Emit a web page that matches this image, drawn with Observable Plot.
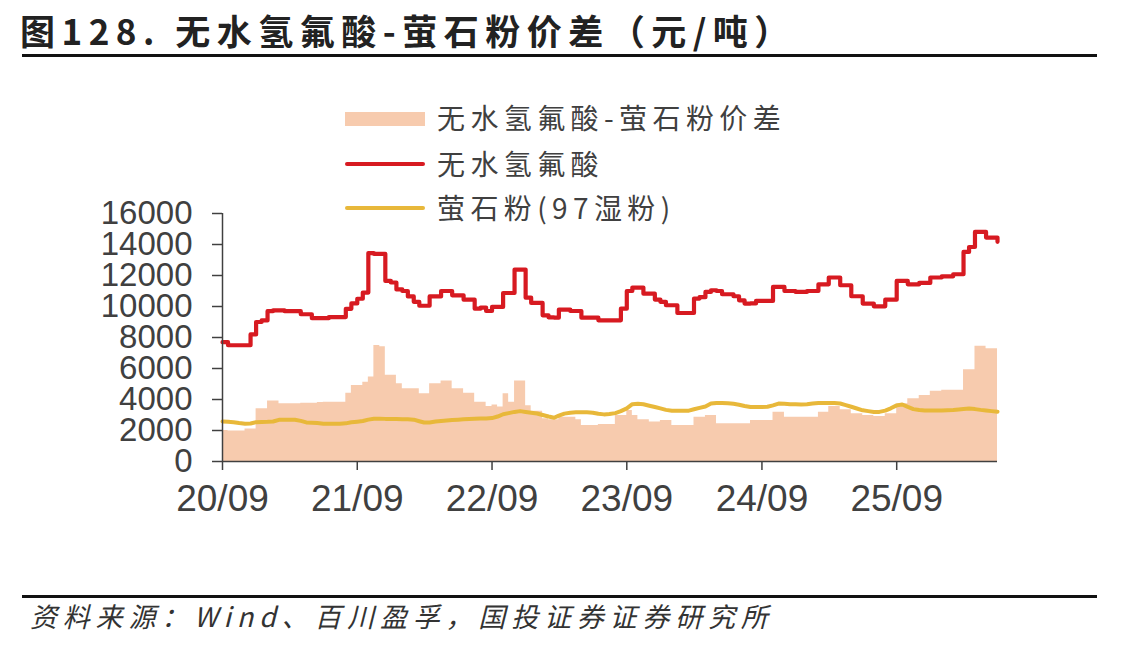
<!DOCTYPE html>
<html>
<head>
<meta charset="utf-8">
<script src="https://cdn.jsdelivr.net/npm/d3@7"></script>
<script src="https://cdn.jsdelivr.net/npm/@observablehq/plot@0.6"></script>
<style>
  html, body { margin: 0; padding: 0; background: #fff; }
  #page { position: relative; width: 1147px; height: 650px; overflow: hidden; font-family: "Noto Sans CJK SC", sans-serif; }
  #title { position: absolute; left: 20px; top: 4px; font-size: 35px; font-weight: bold; color: #222; letter-spacing: 6.5px; white-space: nowrap; }
  .hr { position: absolute; left: 22px; width: 1075px; height: 3px; background: #111; }
  #source { position: absolute; left: 30px; top: 596px; font-size: 27px; font-style: italic; color: #333; letter-spacing: 5.8px; white-space: nowrap; }
  .lg { position: absolute; left: 345px; font-size: 28px; color: #404040; letter-spacing: 5.4px; white-space: nowrap; }
  .lg .sw { position: absolute; left: 0; width: 80px; }
  .lg span { position: absolute; left: 92px; top: 0; line-height: 1; }
  #chart { position: absolute; left: 0; top: 190px; }
</style>
</head>
<body>
<div id="page">
  <div id="title">图128. 无水氢氟酸-萤石粉价差（元/吨）</div>
  <div class="hr" style="top:54px"></div>
  <div id="legend"></div>
  <div id="chart"></div>
  <div class="hr" style="top:595px"></div>
  <div id="source">资料来源：Wind、百川盈孚，国投证券证券研究所</div>
</div>
<script>
// Half-month observation dates
const dates = [
"2020-09-01","2020-09-16","2020-10-01","2020-10-16","2020-11-01","2020-11-16","2020-12-01","2020-12-16",
"2021-01-01","2021-01-16","2021-02-01","2021-02-16","2021-03-01","2021-03-16","2021-04-01","2021-04-16","2021-05-01","2021-05-16","2021-06-01","2021-06-16",
"2021-07-01","2021-07-16","2021-08-01","2021-08-16","2021-09-01","2021-09-16","2021-10-01","2021-10-16","2021-11-01","2021-11-16","2021-12-01","2021-12-16",
"2022-01-01","2022-01-16","2022-02-01","2022-02-16","2022-03-01","2022-03-16","2022-04-01","2022-04-16","2022-05-01","2022-05-16","2022-06-01","2022-06-16",
"2022-07-01","2022-07-16","2022-08-01","2022-08-16","2022-09-01","2022-09-16","2022-10-01","2022-10-16","2022-11-01","2022-11-16","2022-12-01","2022-12-16",
"2023-01-01","2023-01-16","2023-02-01","2023-02-16","2023-03-01","2023-03-16","2023-04-01","2023-04-16","2023-05-01","2023-05-16","2023-06-01","2023-06-16",
"2023-07-01","2023-07-16","2023-08-01","2023-08-16","2023-09-01","2023-09-16","2023-10-01","2023-10-16","2023-11-01","2023-11-16","2023-12-01","2023-12-16",
"2024-01-01","2024-01-16","2024-02-01","2024-02-16","2024-03-01","2024-03-16","2024-04-01","2024-04-16","2024-05-01","2024-05-16","2024-06-01","2024-06-16",
"2024-07-01","2024-07-16","2024-08-01","2024-08-16","2024-09-01","2024-09-16","2024-10-01","2024-10-16","2024-11-01","2024-11-16","2024-12-01","2024-12-16",
"2025-01-01","2025-01-16","2025-02-01","2025-02-16","2025-03-01","2025-03-16","2025-04-01","2025-04-16","2025-05-01","2025-05-16","2025-06-01","2025-06-16",
"2025-07-01","2025-07-16","2025-08-01","2025-08-16","2025-09-01","2025-09-16","2025-10-01","2025-10-16","2025-11-01","2025-11-16","2025-12-01","2025-12-16",
"2026-01-01","2026-01-16","2026-02-01","2026-02-16","2026-03-01","2026-03-16","2026-04-01","2026-04-16","2026-05-01","2026-05-16","2026-06-01"
];

// 无水氢氟酸 (元/吨)
const hfPrice = [
7700,7500,7500,7500,7500,8200,9000,9100,
9700,9750,9750,9700,9700,9700,9500,9500,9250,9250,9250,9320,9320,9320,9850,10200,10500,10900,13450,13400,13400,11650,11550,11100,
11000,10650,10300,10050,10050,10650,10650,11000,11000,10720,10720,10440,10440,9860,9930,9710,9970,9970,10870,10870,12380,12380,10570,10230,
10230,9430,9300,9280,9800,9800,9710,9710,9280,9280,9280,9110,9110,9110,9110,9860,11000,11220,11220,10830,10830,10450,10300,10080,
10080,9580,9580,9580,10510,10600,10940,11050,11000,10790,10790,10660,10400,10190,10200,10360,10360,10360,11260,11260,11000,11000,10940,10940,
11000,11000,11430,11430,11870,11870,11370,11370,10660,10660,10190,10190,10010,10010,10440,10440,11650,11650,11430,11430,11520,11520,11870,11870,
11950,11950,12080,12080,13520,13840,14810,14810,14450,14450,14170
];

// 萤石粉(97湿粉) (元/吨)
const fluoritePrice = [
2580,2560,2530,2480,2440,2450,2540,2550,
2560,2580,2690,2690,2690,2690,2620,2520,2500,2480,2430,2430,2430,2440,2460,2530,2570,2610,2700,2760,2760,2750,2750,2740,
2730,2720,2700,2600,2520,2520,2580,2620,2650,2680,2700,2720,2740,2760,2770,2780,2800,2900,3050,3120,3200,3250,3200,3150,
3100,3000,2900,2820,2960,3090,3150,3170,3170,3170,3150,3080,3040,3060,3120,3250,3430,3700,3720,3690,3600,3520,3430,3330,
3270,3270,3270,3280,3370,3460,3550,3740,3770,3770,3760,3720,3660,3580,3520,3510,3510,3530,3620,3740,3730,3700,3690,3680,
3700,3740,3770,3770,3770,3770,3740,3640,3530,3420,3300,3250,3200,3200,3280,3430,3620,3680,3520,3380,3320,3290,3290,3290,
3290,3310,3330,3360,3390,3420,3380,3330,3290,3250,3210
];

// 无水氢氟酸-萤石粉价差 (元/吨)
const spread = [
2000,1960,1960,1960,2100,2100,3400,3400,
3900,3900,3730,3730,3730,3730,3760,3760,3760,3800,3830,3830,3830,3830,4400,4900,4900,5120,5450,7490,7400,5560,5560,5020,
4700,4690,4690,4370,4370,5020,5020,5190,5190,4690,4690,4410,4410,3830,3830,3550,3650,3510,4370,3830,5190,5190,3600,3250,
3250,2760,2690,2690,2860,2860,2860,2690,2330,2330,2330,2390,2390,2390,2970,2970,3290,2970,2690,2690,2550,2550,2640,2640,
2330,2330,2330,2330,2860,2860,2970,2970,2430,2430,2430,2430,2430,2430,2650,2650,2650,2650,3180,3180,2860,2860,2860,2860,
2860,2860,3180,3180,3550,3550,3340,3340,3080,3080,2970,2970,2900,2900,3080,3080,3730,3730,4050,4050,4260,4260,4540,4540,
4590,4590,4590,4590,5920,5920,7430,7430,7280,7280,7280
];

const yTicks = [0,2000,4000,6000,8000,10000,12000,14000,16000];
const xTicks = ["2020-09-01","2021-09-01","2022-09-01","2023-09-01","2024-09-01","2025-09-01"];
const seriesNames = ["无水氢氟酸-萤石粉价差","无水氢氟酸","萤石粉(97湿粉)"];
const colors = {area:"#F7CBAE", hf:"#D71A21", fl:"#E8B83A"};

const rows = dates.map((d, i) => ({date: new Date(d), hf: hfPrice[i], fl: fluoritePrice[i], sp: spread[i]}));
const x0 = new Date(dates[0]);
const x1 = new Date(dates[dates.length - 1]);

const chart = Plot.plot({
  width: 1147,
  height: 330,
  marginLeft: 222,
  marginRight: 150,
  marginTop: 23,
  marginBottom: 59,
  x: {type: "utc", domain: [x0, x1]},
  y: {domain: [0, 16000]},
  style: {fontFamily: "'Liberation Sans', Arial, sans-serif", fontSize: "33px", color: "#404040", background: "transparent"},
  marks: [
    Plot.areaY(rows, {x: "date", y: "sp", fill: colors.area, curve: "step-after"}),
    Plot.lineY(rows, {x: "date", y: "fl", stroke: colors.fl, strokeWidth: 4}),
    Plot.lineY(rows, {x: "date", y: "hf", stroke: colors.hf, strokeWidth: 4.2, curve: "step-after"}),
    Plot.axisY({ticks: yTicks, tickSize: 10, tickPadding: 20, tickFormat: d3.format("d"), stroke: "#404040", fill: "#404040", strokeWidth: 1.5, fontSize: 33}),
    Plot.axisX({ticks: xTicks.map(d => new Date(d)), tickSize: 9, tickPadding: 14, tickFormat: d3.utcFormat("%y/%m"), stroke: "#404040", fill: "#404040", strokeWidth: 1.5, fontSize: 37}),
    Plot.ruleX([x0], {y1: 0, y2: 16000, stroke: "#404040", strokeWidth: 1.5}),
    Plot.ruleY([0], {stroke: "#404040", strokeWidth: 1.5})
  ]
});
document.getElementById("chart").appendChild(chart);

// Legend
const legend = document.getElementById("legend");
const lgTops = [103, 149, 193];
const swatches = [
  `<div class="sw" style="top:9px;height:14px;background:${colors.area}"></div>`,
  `<div class="sw" style="top:13px;height:4px;border-radius:2px;background:${colors.hf}"></div>`,
  `<div class="sw" style="top:13px;height:4px;border-radius:2px;background:${colors.fl}"></div>`
];
seriesNames.forEach((name, i) => {
  const el = document.createElement("div");
  el.className = "lg";
  el.style.top = lgTops[i] + "px";
  el.innerHTML = swatches[i] + `<span>${name}</span>`;
  legend.appendChild(el);
});
</script>
</body>
</html>
